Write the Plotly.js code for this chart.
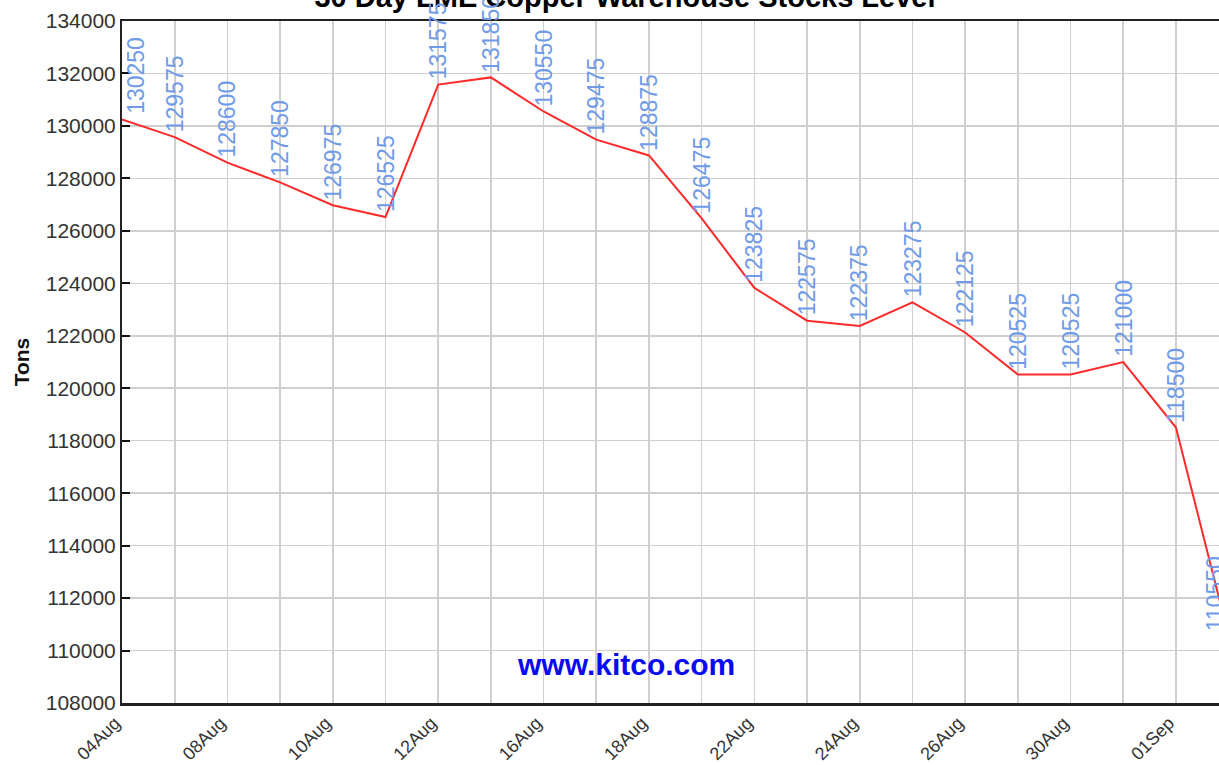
<!DOCTYPE html>
<html>
<head>
<meta charset="utf-8">
<script src="https://cdn.plot.ly/plotly-3.0.1.min.js"></script>
<style>
html, body { margin: 0; padding: 0; overflow: hidden; background: #fff; }
#chart { width: 1262px; height: 765px; }
</style>
</head>
<body>
<div id="chart"></div>
<script>
const titleText = "30 Day LME Copper Warehouse Stocks Level";
const yTitle = "Tons";
const watermark = "www.kitco.com";
const dates = ["04Aug","05Aug","08Aug","09Aug","10Aug","11Aug","12Aug","15Aug","16Aug","17Aug","18Aug",
               "19Aug","22Aug","23Aug","24Aug","25Aug","26Aug","29Aug","30Aug","31Aug","01Sep","02Sep"];
const stocks = [130250,129575,128600,127850,126975,126525,131575,131850,130550,129475,128875,
                126475,123825,122575,122375,123275,122125,120525,120525,121000,118500,110550];
const tickLabels = dates.map((d, i) => (i % 2 === 0 ? d : ""));
const yTicks = [108000,110000,112000,114000,116000,118000,120000,122000,124000,126000,128000,130000,132000,134000];

const labelShift = dates.map((d, i) => (i === 0 ? 14 : (i === dates.length - 1 ? -14 : 0)));

const trace = {
  type: "scatter",
  mode: "lines",
  x: dates,
  y: stocks,
  line: { color: "#ff2a2a", width: 2 },
  hoverinfo: "x+y"
};

const annotations = dates.map((d, i) => ({
  x: d, y: stocks[i], xref: "x", yref: "y",
  text: String(stocks[i]),
  showarrow: false,
  textangle: -90,
  xanchor: "center", yanchor: "bottom",
  xshift: labelShift[i], yshift: 3,
  font: { family: "Liberation Sans, Arial, sans-serif", size: 23, color: "#6f9be8" }
}));
annotations.push({
  text: "<b>" + watermark + "</b>", showarrow: false,
  xref: "paper", yref: "paper",
  x: (626 - 122) / (1262 - 122 - 7), y: (703 - 664) / (703 - 21),
  xanchor: "center", yanchor: "middle",
  font: { family: "Liberation Sans, Arial, sans-serif", size: 30, color: "#0a0af0" }
});

const layout = {
  width: 1262, height: 765,
  margin: { l: 122, r: 7, t: 21, b: 62 },
  paper_bgcolor: "#ffffff", plot_bgcolor: "#ffffff",
  showlegend: false,
  title: {
    text: "<b>" + titleText + "</b>",
    font: { family: "Liberation Sans, Arial, sans-serif", size: 29, color: "#000" },
    xref: "container", x: 625 / 1262, xanchor: "center",
    yref: "container", y: 1 - 7 / 765, yanchor: "bottom"
  },
  xaxis: {
    type: "category",
    range: [0, 21.5],
    tickmode: "array", tickvals: dates, ticktext: tickLabels,
    tickangle: -45,
    ticks: "",
    ticklabelshift: -7,
    showgrid: true, gridcolor: "#cfcfcf", gridwidth: 1.6,
    showline: true, linecolor: "#222", linewidth: 2.5, mirror: true,
    tickfont: { family: "Liberation Sans, Arial, sans-serif", size: 18, color: "#333" },
    zeroline: false, fixedrange: true
  },
  yaxis: {
    range: [108000, 134000],
    tickmode: "array", tickvals: yTicks, ticktext: yTicks.map(String),
    ticks: "inside", ticklen: 8, tickwidth: 2, tickcolor: "#111",
    showgrid: true, gridcolor: "#cfcfcf", gridwidth: 1.6,
    showline: true, linecolor: "#222", linewidth: 2,
    tickfont: { family: "Liberation Sans, Arial, sans-serif", size: 21, color: "#333" },
    ticklabelstandoff: 0,
    title: { text: "<b>" + yTitle + "</b>", standoff: 10,
             font: { family: "Liberation Sans, Arial, sans-serif", size: 21, color: "#111" } },
    zeroline: false, fixedrange: true
  },
  annotations: annotations
};

Plotly.newPlot("chart", [trace], layout, { displayModeBar: false, staticPlot: true });
</script>
</body>
</html>
